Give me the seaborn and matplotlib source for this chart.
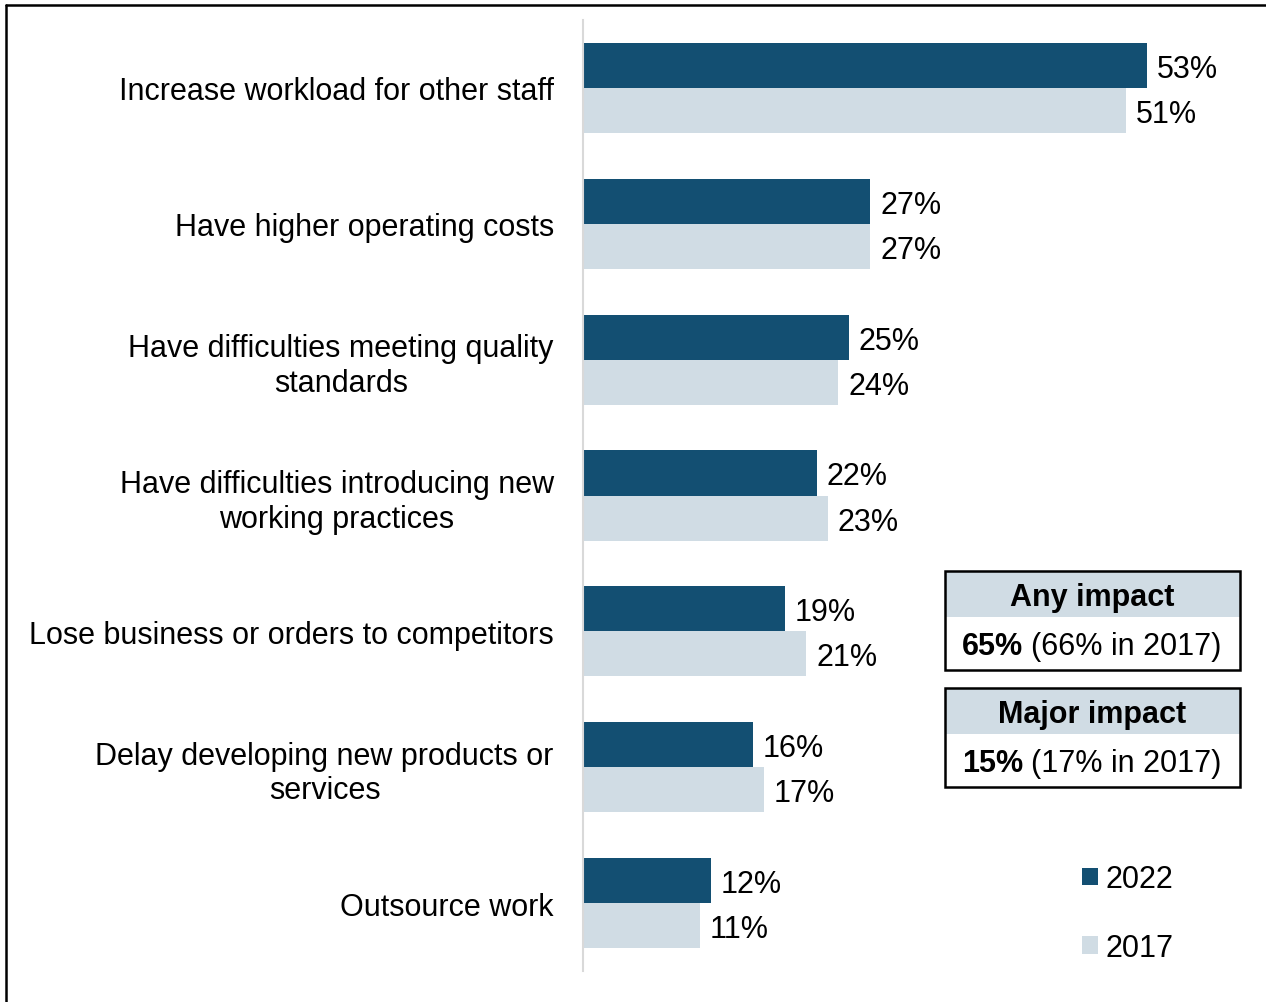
import seaborn as sns
import matplotlib.pyplot as plt
import pandas as pd
from matplotlib.patches import Rectangle
from matplotlib.lines import Line2D

categories = [
    "Increase workload for other staff",
    "Have higher operating costs",
    "Have difficulties meeting quality\nstandards",
    "Have difficulties introducing new\nworking practices",
    "Lose business or orders to competitors",
    "Delay developing new products or\nservices",
    "Outsource work",
]
vals_2022 = [53, 27, 25, 22, 19, 16, 12]
vals_2017 = [51, 27, 24, 23, 21, 17, 11]
years = ["2022", "2017"]
box_titles = ["Any impact", "Major impact"]
box_main = ["65%", "15%"]
box_prev = ["(66% in 2017)", "(17% in 2017)"]

dark = "#134F72"
light = "#D0DCE4"
fs = 22

sns.set_style("white")
plt.rcParams["font.family"] = ["Liberation Sans", "DejaVu Sans"]
plt.rcParams["text.color"] = "black"
plt.rcParams["ytick.color"] = "black"

df = pd.DataFrame({
    "cat": categories * 2,
    "val": vals_2022 + vals_2017,
    "year": ["2022"] * len(categories) + ["2017"] * len(categories),
})

W, H = 1266, 1003
fig = plt.figure(figsize=(W / 100, H / 100), dpi=100)
ax = fig.add_axes([583 / W, 1 - 972 / H, 1 - 583 / W, (972 - 21) / H])

sns.barplot(data=df, y="cat", x="val", hue="year", hue_order=years,
            palette=[dark, light], width=0.663, orient="h", ax=ax,
            saturation=1, linewidth=0, legend=True)
ax.set_xlim(0, (W - 583) / 10.64)
ax.set_ylim(6.5, -0.5)
ax.set_xlabel("")
ax.set_ylabel("")
ax.set_xticks([])
for s in ["top", "right", "bottom"]:
    ax.spines[s].set_visible(False)
ax.spines["left"].set_color("#D9D9D9")
ax.spines["left"].set_linewidth(1.5)
ax.tick_params(axis="y", length=0, pad=21, labelsize=fs, labelcolor="black")
for lab in ax.get_yticklabels():
    lab.set_multialignment("center")

for cont, vals in zip(ax.containers, [vals_2022, vals_2017]):
    texts = ax.bar_label(cont, labels=[f"{v}%" for v in vals], padding=7,
                         fontsize=fs, color="black")
    for t in texts:
        t.set_va("center_baseline")

handles, labels = ax.get_legend_handles_labels()
ax.legend(handles, labels, frameon=False, fontsize=fs, handlelength=0.5,
          handleheight=0.5, handletextpad=0.25, labelspacing=1.27,
          loc="upper left", bbox_to_anchor=(1070 / W, 1 - 853 / H),
          bbox_transform=fig.transFigure, borderaxespad=0)


def fx(x):
    return x / W


def fy(y):
    return 1 - y / H


# summary boxes
for i, (t, m, p) in enumerate(zip(box_titles, box_main, box_prev)):
    top = 572 + i * 117
    fig.patches.append(Rectangle((fx(945), fy(top + 46)), fx(1240) - fx(945),
                                 fy(top) - fy(top + 46), facecolor=light,
                                 edgecolor="none", transform=fig.transFigure))
    fig.patches.append(Rectangle((fx(945), fy(top + 99)), fx(1240) - fx(945),
                                 fy(top) - fy(top + 99), facecolor="none",
                                 edgecolor="black", linewidth=1.8,
                                 transform=fig.transFigure))
    fig.text(fx(1092), fy(top + 26), t, ha="center", va="center",
             fontsize=fs, fontweight="bold")
    fig.text(fx(962), fy(top + 75), m, ha="left", va="center",
             fontsize=fs, fontweight="bold")
    fig.text(fx(1031), fy(top + 75), p, ha="left", va="center", fontsize=fs)

# outer frame (left and top edges visible)
fig.lines.append(Line2D([fx(6), fx(6)], [0, fy(6)], color="black",
                        linewidth=1.8, transform=fig.transFigure))
fig.lines.append(Line2D([fx(6), 1], [fy(6), fy(6)], color="black",
                        linewidth=1.8, transform=fig.transFigure))

fig.savefig("out.png", dpi=100)
